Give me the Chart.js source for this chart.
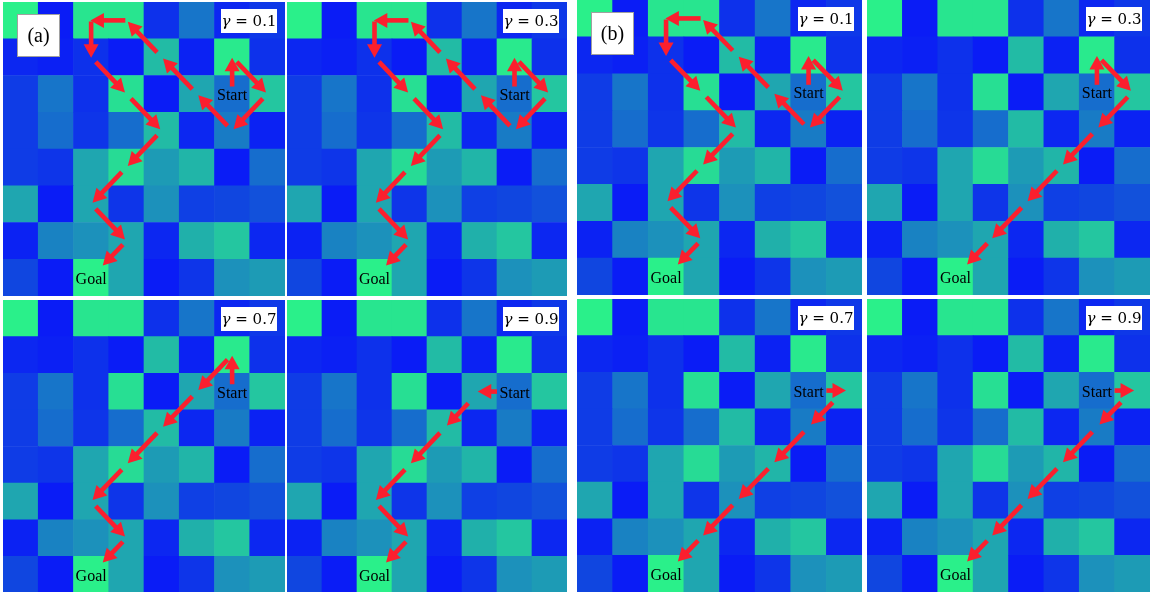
<!DOCTYPE html>
<html>
<head>
<meta charset="utf-8">
<script src="https://cdn.jsdelivr.net/npm/chart.js@4.4.1/dist/chart.umd.min.js"></script>
<style>
  html, body { margin: 0; padding: 0; background: #ffffff; }
  body { width: 1150px; height: 592px; position: relative; overflow: hidden; }
  .panel { position: absolute; }
</style>
</head>
<body>
<div id="wrap"></div>
<script>
// ---- data ----
const colLabels = ['0', '1', '2', '3', '4', '5', '6', '7'];
const rowLabels = ['0', '1', '2', '3', '4', '5', '6', '7'];
// value of each grid cell (row 0 = top), 0 = deep blue, 1 = bright green
const heatValues = [
  [1.00, 0.00, 0.95, 0.95, 0.10, 0.42, 0.05, 0.13],
  [0.05, 0.02, 0.10, 0.00, 0.75, 0.03, 0.97, 0.10],
  [0.15, 0.42, 0.10, 0.92, 0.00, 0.65, 0.38, 0.80],
  [0.15, 0.38, 0.12, 0.38, 0.75, 0.05, 0.45, 0.03],
  [0.15, 0.12, 0.65, 0.90, 0.60, 0.72, 0.00, 0.38],
  [0.65, 0.00, 0.65, 0.12, 0.55, 0.17, 0.20, 0.25],
  [0.03, 0.48, 0.55, 0.65, 0.05, 0.70, 0.80, 0.05],
  [0.20, 0.00, 1.00, 0.65, 0.00, 0.12, 0.55, 0.60]
];
const gammaValues = ['0.1', '0.3', '0.7', '0.9'];
const groupLabels = ['(a)', '(b)'];
const startCell = [2, 6];
const goalCell = [7, 2];
// paths as [row, col] cells
const pathA01 = [[2,6],[1,6],[2,7],[3,6],[2,5],[1,4],[0,3],[0,2],[1,2],[2,3],[3,4],[4,3],[5,2],[6,3],[7,2]];
const pathA03 = [[2,6],[1,6],[2,7],[3,6],[2,5],[1,4],[0,3],[0,2],[1,2],[2,3],[3,4],[4,3],[5,2],[6,3],[7,2]];
const pathA07 = [[2,6],[1,6],[2,5],[3,4],[4,3],[5,2],[6,3],[7,2]];
const pathA09 = [[2,6],[2,5],[3,4],[4,3],[5,2],[6,3],[7,2]];
const pathB01 = [[2,6],[1,6],[2,7],[3,6],[2,5],[1,4],[0,3],[0,2],[1,2],[2,3],[3,4],[4,3],[5,2],[6,3],[7,2]];
const pathB03 = [[2,6],[1,6],[2,7],[3,6],[4,5],[5,4],[6,3],[7,2]];
const pathB07 = [[2,6],[2,7],[3,6],[4,5],[5,4],[6,3],[7,2]];
const pathB09 = [[2,6],[2,7],[3,6],[4,5],[5,4],[6,3],[7,2]];

// ---- layout ----
const panels = [
  { left: 3,   top: 2,   w: 282, h: 294, path: pathA01, gamma: 0, group: 0 },
  { left: 287, top: 2,   w: 280, h: 294, path: pathA03, gamma: 1, group: -1 },
  { left: 3,   top: 300, w: 282, h: 293, path: pathA07, gamma: 2, group: -1 },
  { left: 287, top: 300, w: 280, h: 293, path: pathA09, gamma: 3, group: -1 },
  { left: 577, top: 0,   w: 285, h: 295, path: pathB01, gamma: 0, group: 1 },
  { left: 867, top: 0,   w: 283, h: 295, path: pathB03, gamma: 1, group: -1 },
  { left: 577, top: 299, w: 285, h: 293, path: pathB07, gamma: 2, group: -1 },
  { left: 867, top: 299, w: 283, h: 293, path: pathB09, gamma: 3, group: -1 }
];

const lowC = [10, 28, 246];
const highC = [42, 240, 138];
function cellColor(v) {
  const c = lowC.map((l, i) => Math.round(l + (highC[i] - l) * v));
  return 'rgb(' + c.join(',') + ')';
}

function drawArrow(ctx, x1, y1, x2, y2) {
  const ang = Math.atan2(y2 - y1, x2 - x1);
  const headLen = 13.5, headHalf = 7.5;
  const bx = x2 - headLen * Math.cos(ang), by = y2 - headLen * Math.sin(ang);
  ctx.save();
  ctx.strokeStyle = '#fb1f2e';
  ctx.fillStyle = '#fb1f2e';
  ctx.lineWidth = 4.6;
  ctx.lineCap = 'butt';
  ctx.beginPath();
  ctx.moveTo(x1, y1);
  ctx.lineTo(bx + 1 * Math.cos(ang), by + 1 * Math.sin(ang));
  ctx.stroke();
  ctx.beginPath();
  ctx.moveTo(x2, y2);
  ctx.lineTo(bx + headHalf * Math.sin(ang), by - headHalf * Math.cos(ang));
  ctx.lineTo(bx - headHalf * Math.sin(ang), by + headHalf * Math.cos(ang));
  ctx.closePath();
  ctx.fill();
  ctx.restore();
}

const overlayPlugin = {
  id: 'overlay',
  afterDatasetsDraw(chart, args, opts) {
    const ctx = chart.ctx;
    const xs = chart.scales.x, ys = chart.scales.y;
    const px = (c) => xs.getPixelForValue(c);
    const py = (r) => ys.getPixelForValue(rowLabels.length - 0.5 - r);
    const path = opts.path;
    // arrows
    for (let i = 0; i < path.length - 1; i++) {
      const [r1, c1] = path[i], [r2, c2] = path[i + 1];
      const sx = px(c1), sy = py(r1), ex = px(c2), ey = py(r2);
      const diag = (r1 !== r2) && (c1 !== c2);
      let a = diag ? 0.13 : 0.03, b = diag ? 0.96 : 1.02;
      if (i === 0 && !diag) { a = (r1 === r2) ? 0.5 : 0.2; b = (r1 === r2) ? 1.05 : 0.98; }
      if (i === 1 && path[0][0] === path[1][0]) { a = 0.32; b = 0.93; }
      if (i === path.length - 2) { a = 0.1; b = 0.67; }
      drawArrow(ctx, sx + (ex - sx) * a, sy + (ey - sy) * a, sx + (ex - sx) * b, sy + (ey - sy) * b);
    }
    // Start / Goal text
    ctx.save();
    ctx.fillStyle = '#000000';
    ctx.font = '16px "Liberation Serif", "Times New Roman", serif';
    ctx.textAlign = 'center';
    ctx.textBaseline = 'middle';
    ctx.fillText('Start', px(startCell[1]), py(startCell[0]) + 2);
    ctx.fillText('Goal', px(goalCell[1]), py(goalCell[0]) + 2);
    ctx.restore();
    // gamma box
    const area = chart.chartArea;
    const bw = 56, bh = 24;
    const bxL = area.right - 8 - bw, byT = area.top + 7;
    ctx.save();
    ctx.fillStyle = '#ffffff';
    ctx.fillRect(bxL, byT, bw, bh);
    ctx.fillStyle = '#000000';
    ctx.textBaseline = 'middle';
    ctx.textAlign = 'left';
    const gText = ' = ' + gammaValues[opts.gamma];
    const fam = '"DejaVu Serif", "Liberation Serif", serif';
    ctx.font = 'italic 15px ' + fam;
    const gW = ctx.measureText('γ').width;
    ctx.font = '15px ' + fam;
    const tW = ctx.measureText(gText).width;
    const tx = bxL + (bw - gW - tW) / 2;
    ctx.font = 'italic 15px ' + fam;
    ctx.fillText('γ', tx, byT + bh / 2 + 1);
    ctx.font = '15px ' + fam;
    ctx.fillText(gText, tx + gW, byT + bh / 2 + 1);
    // group label
    if (opts.group >= 0) {
      const gx = area.left + 14, gy = area.top + 12, gs = 43;
      ctx.fillStyle = '#ffffff';
      ctx.fillRect(gx, gy, gs, gs);
      ctx.strokeStyle = '#a0a0a0';
      ctx.lineWidth = 1;
      ctx.strokeRect(gx + 0.5, gy + 0.5, gs - 1, gs - 1);
      ctx.fillStyle = '#000000';
      ctx.font = '20px "Liberation Serif", serif';
      ctx.textAlign = 'center';
      ctx.fillText(groupLabels[opts.group], gx + gs / 2, gy + gs / 2 + 1);
    }
    ctx.restore();
  }
};

const wrap = document.getElementById('wrap');
panels.forEach((p, idx) => {
  const div = document.createElement('div');
  div.className = 'panel';
  div.style.left = p.left + 'px';
  div.style.top = p.top + 'px';
  div.style.width = p.w + 'px';
  div.style.height = p.h + 'px';
  const cv = document.createElement('canvas');
  div.appendChild(cv);
  wrap.appendChild(div);

  const datasets = [];
  for (let r = rowLabels.length - 1; r >= 0; r--) {
    datasets.push({
      label: 'row ' + rowLabels[r],
      data: heatValues[r].map(() => 1),
      backgroundColor: heatValues[r].map(cellColor),
      borderWidth: 0,
      categoryPercentage: 1.0,
      barPercentage: 1.0
    });
  }

  new Chart(cv, {
    type: 'bar',
    data: { labels: colLabels, datasets: datasets },
    options: {
      responsive: true,
      maintainAspectRatio: false,
      animation: false,
      events: [],
      layout: { padding: 0 },
      plugins: {
        legend: { display: false },
        tooltip: { enabled: false },
        title: { display: false },
        overlay: { path: p.path, gamma: p.gamma, group: p.group }
      },
      scales: {
        x: { stacked: true, display: false, offset: true, grid: { display: false } },
        y: { stacked: true, display: false, min: 0, max: 8, grid: { display: false } }
      }
    },
    plugins: [overlayPlugin]
  });
});
</script>
</body>
</html>
